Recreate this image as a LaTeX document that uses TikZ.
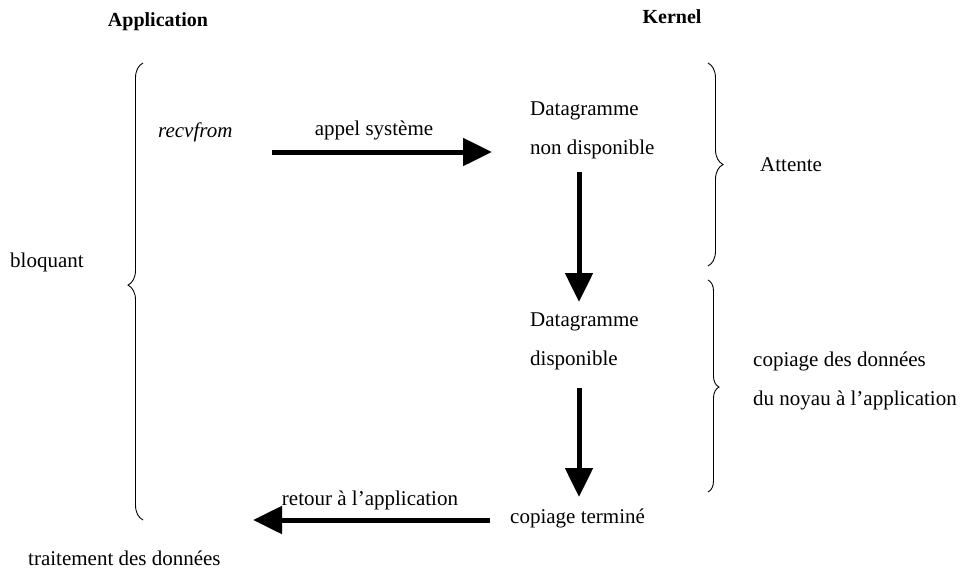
\documentclass[tikz,border=0pt]{standalone}
\usepackage{fontspec}
\setmainfont{Liberation Serif}
\usetikzlibrary{arrows.meta, decorations.pathreplacing, positioning}
\tikzset{%
  plain_text/.style={%
    inner sep=0pt,%
    font={\fontsize{21}{39}\selectfont},%
    align=left,%
  },
  head_text/.style={%
    inner sep=0pt,%
    font={\fontsize{20}{24}\selectfont\bfseries},%
  },
  fat_arrow/.style={%
    line width=5pt,%
    -{Triangle[length=29pt, width=27pt]},%
  },
  side_brace/.style={%
    line width=0.9pt,%
    decorate,%
    decoration={brace, amplitude=15pt},%
  },
}

\begin{document}
\begin{tikzpicture}[x=1pt, y=-1pt]

    \useasboundingbox (0,0) rectangle (966,576);

    \node [head_text] (App) at (158,22) {Application};
    \node [head_text] (Kernel) at (672,17) {Kernel};

    \node [plain_text, anchor=base west] (bloquant) at (10,267) {bloquant};
    \node [plain_text, anchor=base west] (recvfrom) at (158,137) {\textit{recvfrom}};
    \node [plain_text, anchor=base] (call_label) at (374,135) {appel système};
    \node [plain_text, anchor=base west] (dg_wait) at (530,154) {Datagramme\\non disponible};
    \node [plain_text, anchor=base west] (attente) at (760,171) {Attente};
    \node [plain_text, anchor=base west] (dg_ready) at (530,365) {Datagramme\\disponible};
    \node [plain_text, anchor=base west] (copy_note) at (753,405) {copiage des données\\du noyau à l’application};
    \node [plain_text, anchor=base west] (copy_done) at (510,523) {copiage terminé};
    \node [plain_text, anchor=base] (return_label) at (370,505) {retour à l’application};
    \node [plain_text, anchor=base west] (processing) at (28,565) {traitement des données};

    \coordinate (call_from) at (272,152);
    \coordinate (call_to) at (492,152);
    \coordinate (wait_out) at (579,172);
    \coordinate (ready_in) at (579,302);
    \coordinate (ready_out) at (579,388);
    \coordinate (done_in) at (579,497);
    \coordinate (return_from) at (490,520);
    \coordinate (return_to) at (253,520);

    \draw [fat_arrow] (call_from) -- (call_to);
    \draw [fat_arrow] (wait_out) -- (ready_in);
    \draw [fat_arrow] (ready_out) -- (done_in);
    \draw [fat_arrow] (return_from) -- (return_to);

    % braces
    \draw [side_brace, decoration={aspect=0.514}] (143,520) -- (143,63);
    \draw [side_brace, decoration={aspect=0.5}] (708,63) -- (708,266);
    \draw [side_brace, decoration={amplitude=11pt, aspect=0.505}] (708,280) -- (708,492);
  \end{tikzpicture}
\end{document}
